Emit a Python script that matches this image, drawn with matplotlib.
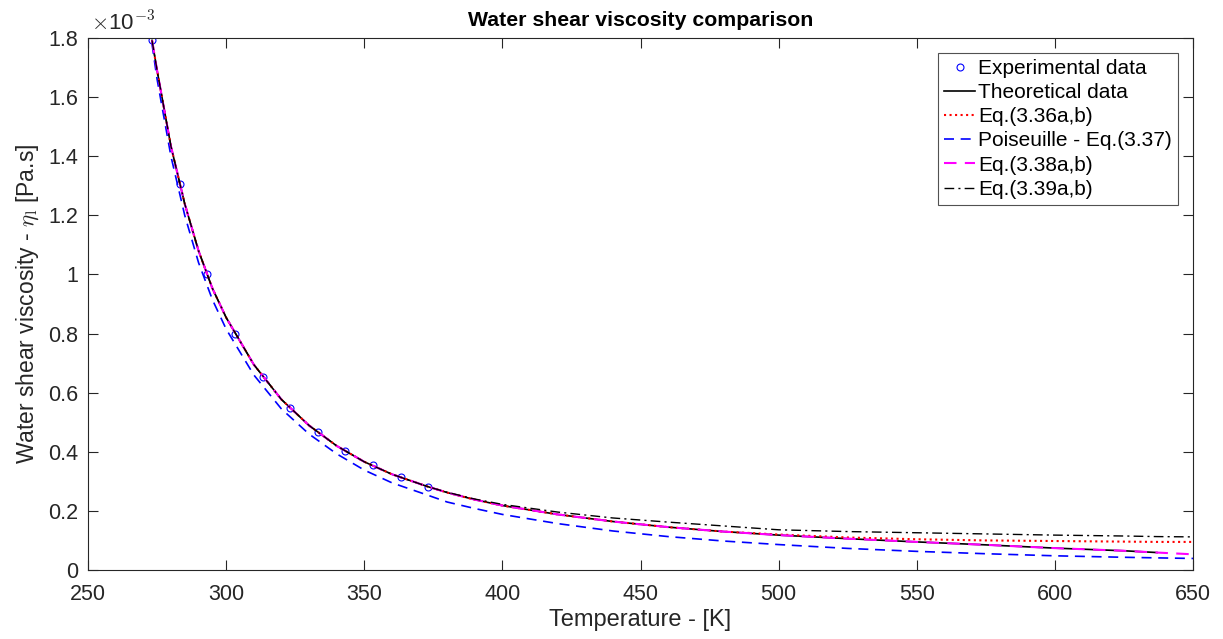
import matplotlib
matplotlib.use("Agg")
import matplotlib.pyplot as plt
from matplotlib.ticker import FuncFormatter

plt.rcParams['font.family'] = ['Liberation Sans', 'DejaVu Sans']
plt.rcParams['mathtext.fontset'] = 'cm'

# viscosity values in units of 1e-3 Pa.s
T_exp = [273.15, 283.15, 293.15, 303.15, 313.15, 323.15, 333.15, 343.15, 353.15, 363.15, 373.15]
eta_exp = [1.792, 1.306, 1.002, 0.797, 0.653, 0.547, 0.466, 0.404, 0.354, 0.314, 0.282]

T = [273.15, 275, 280, 285, 290, 295, 300, 310, 320, 330, 340, 350, 360, 373, 380, 390,
     400, 420, 440, 460, 480, 500, 525, 550, 575, 600, 625, 637, 650]

eta_theo = [1.792, 1.69, 1.434, 1.239, 1.080, 0.953, 0.854, 0.695, 0.577, 0.489, 0.420, 0.366,
            0.324, 0.282, 0.262, 0.238, 0.218, 0.188, 0.164, 0.145, 0.130, 0.118, 0.106,
            0.095, 0.085, 0.074, 0.065, 0.059]
eta_336 = [1.792, 1.69, 1.434, 1.239, 1.080, 0.953, 0.854, 0.695, 0.577, 0.489, 0.420, 0.366,
           0.324, 0.282, 0.262, 0.238, 0.218, 0.188, 0.164, 0.145, 0.130, 0.120, 0.110,
           0.104, 0.100, 0.098, 0.096, 0.095, 0.095]
eta_337 = [1.78, 1.66, 1.40, 1.20, 1.04, 0.915, 0.815, 0.66, 0.545, 0.46, 0.393, 0.338,
           0.295, 0.253, 0.230, 0.208, 0.188, 0.157, 0.132, 0.113, 0.098, 0.086, 0.073,
           0.063, 0.055, 0.048, 0.043, 0.041, 0.039]
eta_338 = [1.792, 1.69, 1.434, 1.239, 1.080, 0.953, 0.854, 0.695, 0.577, 0.489, 0.420, 0.366,
           0.324, 0.282, 0.262, 0.238, 0.218, 0.188, 0.164, 0.145, 0.130, 0.118, 0.106,
           0.095, 0.085, 0.074, 0.065, 0.059, 0.053]
eta_339 = [1.792, 1.69, 1.434, 1.239, 1.080, 0.953, 0.854, 0.695, 0.577, 0.489, 0.420, 0.366,
           0.324, 0.282, 0.263, 0.240, 0.222, 0.196, 0.176, 0.162, 0.149, 0.136, 0.130,
           0.126, 0.122, 0.118, 0.115, 0.113, 0.112]

fig = plt.figure(figsize=(12.23, 6.39), dpi=100)
ax = fig.add_axes([0.072, 0.108, 0.9035, 0.8325])

ax.plot(T_exp, eta_exp, 'o', mfc='none', mec='blue', ms=5, mew=0.8, label='Experimental data')
ax.plot(T[:len(eta_theo)], eta_theo, '-', color='black', lw=1.2, label='Theoretical data')
ax.plot(T, eta_336, ':', color='red', lw=1.5, label='Eq.(3.36a,b)')
ax.plot(T, eta_337, '--', color='blue', lw=1.2, dashes=(6, 4), label='Poiseuille - Eq.(3.37)')
ax.plot(T, eta_338, '--', color='magenta', lw=1.5, dashes=(6, 4), label='Eq.(3.38a,b)')
ax.plot(T, eta_339, '-.', color='black', lw=1.0, dashes=(7, 3, 1.5, 3), label='Eq.(3.39a,b)')

ax.set_xlim(250, 650)
ax.set_ylim(0, 1.8)
ax.set_xticks(range(250, 651, 50))
ax.set_yticks([i * 0.2 for i in range(10)])
ax.yaxis.set_major_formatter(FuncFormatter(lambda v, p: '%g' % round(v, 1)))

grey = '#262626'
for s in ax.spines.values():
    s.set_color(grey)
    s.set_linewidth(0.8)
ax.tick_params(direction='in', top=True, right=True, length=7, width=0.8,
               labelsize=15.5, colors=grey)
ax.tick_params(axis='x', pad=10)
ax.tick_params(axis='y', pad=7)

ax.set_xlabel('Temperature - [K]', fontsize=17, color=grey, labelpad=3)
ax.set_ylabel(r'Water shear viscosity - $\eta_\mathrm{l}$ [Pa.s]', fontsize=16.5, color=grey, labelpad=5)
ax.set_title('Water shear viscosity comparison', fontsize=15.3, fontweight='bold', pad=9)
ax.text(0.003, 1.004, r'$\times$10$^{-3}$', transform=ax.transAxes, fontsize=16,
        color=grey, ha='left', va='bottom')

leg = ax.legend(loc='upper right', fontsize=15, frameon=True, fancybox=False,
                borderaxespad=0.7, handlelength=1.5, handletextpad=0.15,
                labelspacing=0.25, borderpad=0.3)
leg.get_frame().set_edgecolor(grey)
leg.get_frame().set_linewidth(0.8)

fig.savefig('out.png', dpi=100)
